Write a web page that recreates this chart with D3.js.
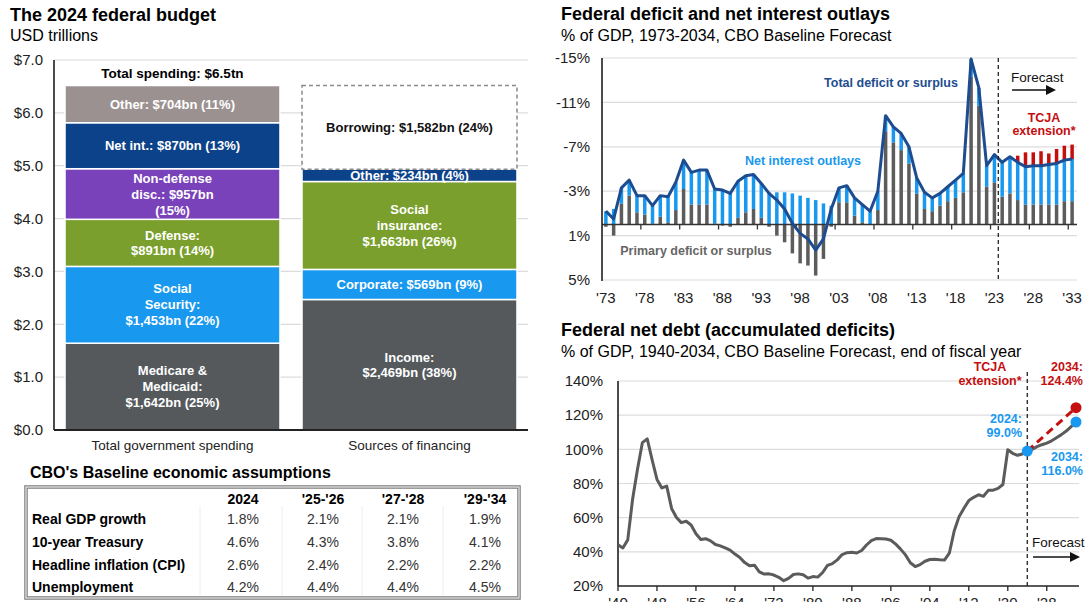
<!DOCTYPE html>
<html>
<head>
<meta charset="utf-8">
<script src="https://cdn.jsdelivr.net/npm/d3@7"></script>
<style>
  body { margin: 0; background: #fff; }
  svg { display: block; font-family: "Liberation Sans", Arial, sans-serif; }
</style>
</head>
<body>
<svg id="canvas" width="1087" height="602"></svg>
<script>
// ---- data: 2024 budget (USD bn) ----
var budgetCats = ['Total government spending', 'Sources of financing']

var spendNames = ['Medicare & Medicaid', 'Social Security', 'Defense', 'Non-defense disc.', 'Net int.', 'Other']
var spendValues = [1642, 1453, 891, 957, 870, 704]
var spendLabels = [
  ['Medicare &', 'Medicaid:', '$1,642bn (25%)'],
  ['Social', 'Security:', '$1,453bn (22%)'],
  ['Defense:', '$891bn (14%)'],
  ['Non-defense', 'disc.: $957bn', '(15%)'],
  ['Net int.: $870bn (13%)'],
  ['Other: $704bn (11%)']
]
var finNames = ['Income', 'Corporate', 'Social insurance', 'Other', 'Borrowing']
var finValues = [2469, 569, 1663, 234, 1582]
var finLabels = [
  ['Income:', '$2,469bn (38%)'],
  ['Corporate: $569bn (9%)'],
  ['Social', 'insurance:', '$1,663bn (26%)'],
  ['Other: $234bn (4%)'],
  ['Borrowing: $1,582bn (24%)']
]
var budgetTicks = [0, 1, 2, 3, 4, 5, 6, 7]

// ---- data: CBO assumptions table ----
var tableCols = ['2024', "'25-'26", "'27-'28", "'29-'34"]
var tableRows = ['Real GDP growth', '10-year Treasury', 'Headline inflation (CPI)', 'Unemployment']
var tableVals = [
  ['1.8%', '2.1%', '2.1%', '1.9%'],
  ['4.6%', '4.3%', '3.8%', '4.1%'],
  ['2.6%', '2.4%', '2.2%', '2.2%'],
  ['4.2%', '4.4%', '4.4%', '4.5%']
]

// ---- data: deficit, % of GDP (negative = deficit), 1973-2033 ----
var defYears = d3.range(1973, 2034)
var totalDeficit = [
  -1.2, -0.5, -3.3, -4.0, -2.6, -2.6, -1.7, -2.6, -2.5, -3.8,
  -5.8, -4.7, -4.9, -4.9, -3.2, -3.1, -2.8, -3.9, -4.4, -4.5,
  -3.7, -2.8, -2.2, -1.4, -0.1, 0.8, 1.3, 2.3, 1.3, -1.4,
  -3.3, -3.5, -2.4, -1.8, -1.2, -3.0, -9.8, -8.8, -8.2, -7.0,
  -4.2, -2.9, -2.4, -2.8, -3.4, -4.0, -4.6, -14.9, -12.3, -5.3,
  -6.3, -5.6, -6.1, -5.6, -5.2, -5.3, -5.3, -5.4, -5.5, -5.8, -5.9
]
var primaryDeficit = [
  0.2, 1.0, -1.9, -2.6, -1.1, -0.9, -0.1, -0.7, -0.2, -1.3,
  -3.2, -1.8, -1.8, -1.8, -0.1, 0.1, 0.2, -0.6, -1.1, -1.4,
  -0.6, 0.2, 1.0, 1.6, 2.6, 3.5, 3.7, 4.6, 3.1, 0.2,
  -2.0, -2.0, -0.8, -0.2, 0.0, -1.3, -8.4, -7.4, -6.7, -5.5,
  -2.8, -1.4, -1.2, -1.7, -2.1, -2.4, -2.9, -13.3, -10.7, -3.4,
  -3.8, -2.5, -2.8, -2.2, -1.8, -1.8, -1.8, -1.8, -1.8, -2.1, -2.1
]
var netInterest = [
  1.2, 1.4, 1.4, 1.4, 1.5, 1.7, 1.6, 1.9, 2.3, 2.5,
  2.6, 2.9, 3.1, 3.1, 3.1, 3.1, 2.9, 3.3, 3.3, 3.1,
  3.1, 2.9, 2.9, 2.9, 2.8, 2.6, 2.4, 2.2, 1.9, 1.7,
  1.3, 1.5, 1.6, 1.6, 1.2, 1.7, 1.4, 1.4, 1.5, 1.5,
  1.4, 1.5, 1.2, 1.1, 1.3, 1.6, 1.7, 1.6, 1.6, 1.9,
  2.5, 3.1, 3.3, 3.4, 3.4, 3.5, 3.5, 3.6, 3.7, 3.7, 3.8
]
var tcjaYears = [2026, 2027, 2028, 2029, 2030, 2031, 2032, 2033]
var tcjaDeficit = [-6.2, -6.5, -6.5, -6.6, -6.4, -6.8, -7.1, -7.2]
var defTicks = [-15, -11, -7, -3, 1, 5]

// ---- data: net debt, % of GDP ----
var debtYears = d3.range(1940, 2025)
var debtHist = [
  44.2, 42.3, 47.0, 70.9, 88.3, 103.9, 106.1, 93.9, 82.4, 77.4,
  78.5, 65.4, 60.1, 57.1, 57.9, 55.7, 50.6, 47.2, 47.7, 46.4,
  44.3, 43.5, 42.3, 41.0, 38.7, 36.7, 33.7, 31.8, 32.2, 28.3,
  27.0, 27.1, 26.4, 25.1, 23.1, 24.5, 26.7, 27.1, 26.6, 24.6,
  25.5, 25.2, 27.9, 32.1, 33.1, 35.3, 38.4, 39.5, 39.8, 39.3,
  40.8, 44.0, 46.6, 47.8, 47.7, 47.5, 46.8, 44.5, 41.6, 38.2,
  33.6, 31.4, 32.5, 34.5, 35.5, 35.6, 35.3, 35.2, 39.2, 52.2,
  60.6, 65.5, 70.0, 71.9, 73.4, 72.5, 76.0, 76.1, 77.1, 79.4,
  99.8, 97.7, 96.5, 97.3, 99.0
]
var projYears = [2024, 2025, 2026, 2027, 2028, 2029, 2030, 2031, 2032, 2033, 2034]
var debtBaseline = [99.0, 100.0, 101.6, 102.7, 103.6, 105.0, 106.8, 108.6, 110.7, 113.3, 116.0]
var tcjaDebtYears = [2024, 2034]
var tcjaDebt = [99.0, 124.4]
var debtTicks = [20, 40, 60, 80, 100, 120, 140]
var debtXTicks = [1940, 1948, 1956, 1964, 1972, 1980, 1988, 1996, 2004, 2012, 2020, 2028]

// colors
var cGray = '#55595c', cBlue = '#1898ee', cGreen = '#7a9f2c', cPurple = '#7942ba'
var cNavy = '#0c428a', cTaupe = '#9c9191', cRed = '#c40f0f', cGrid = '#dcdcdc'
var cLine = '#1d4d90'

var svg = d3.select('#canvas')

function lines(g, arr, x, yMid, o) {
  var lh = o.lh || 16
  var y0 = yMid - (arr.length - 1) * lh / 2
  arr.forEach(function(t, i) {
    g.append('text')
      .attr('x', x).attr('y', y0 + i * lh).attr('dy', '0.35em')
      .attr('text-anchor', o.anchor || 'middle')
      .attr('font-size', o.size || 13)
      .attr('font-weight', o.weight || 'bold')
      .attr('fill', o.fill || '#fff')
      .text(t)
  })
}

function arrow(g, x1, x2, y) {
  g.append('line').attr('x1', x1).attr('x2', x2 - 8).attr('y1', y).attr('y2', y)
    .attr('stroke', '#111').attr('stroke-width', 1.5)
  g.append('path').attr('d', 'M' + (x2 - 10) + ',' + (y - 5) + 'L' + x2 + ',' + y + 'L' + (x2 - 10) + ',' + (y + 5) + 'Z')
    .attr('fill', '#111')
}

// ================= left: budget stacks =================
var gB = svg.append('g')
gB.append('text').attr('x', 10).attr('y', 21).attr('font-size', 18).attr('font-weight', 'bold').text('The 2024 federal budget')
gB.append('text').attr('x', 10).attr('y', 41).attr('font-size', 16).text('USD trillions')

var yB = d3.scaleLinear().domain([0, 7]).range([430, 60])
var xB = d3.scaleBand().domain(budgetCats).range([54, 528]).paddingInner(0.093).paddingOuter(0.0465)

gB.selectAll('.grid').data(budgetTicks.slice(1)).enter().append('line')
  .attr('x1', 54).attr('x2', 528)
  .attr('y1', function(d) { return yB(d) }).attr('y2', function(d) { return yB(d) })
  .attr('stroke', cGrid).attr('stroke-width', 1.2)

gB.selectAll('.ylab').data(budgetTicks).enter().append('text')
  .attr('x', 43).attr('y', function(d) { return yB(d) }).attr('dy', '0.35em')
  .attr('text-anchor', 'end').attr('font-size', 15).attr('fill', '#222')
  .text(function(d) { return '$' + d.toFixed(1) })

function stackUp(names, values) {
  var acc = 0
  return names.map(function(n, i) {
    var s = { name: n, y0: acc / 1000, y1: (acc + values[i]) / 1000, i: i }
    acc += values[i]
    return s
  })
}

var spendStack = stackUp(spendNames, spendValues)
var spendColors = [cGray, cBlue, cGreen, cPurple, cNavy, cTaupe]
var x0 = xB(budgetCats[0]), bw = xB.bandwidth()
gB.selectAll('.spend').data(spendStack).enter().append('rect')
  .attr('x', x0).attr('width', bw)
  .attr('y', function(d) { return yB(d.y1) })
  .attr('height', function(d) { return yB(d.y0) - yB(d.y1) })
  .attr('fill', function(d) { return spendColors[d.i] })
  .attr('stroke', '#fff').attr('stroke-width', 1.5)
spendStack.forEach(function(d) {
  lines(gB, spendLabels[d.i], x0 + bw / 2, yB((d.y0 + d.y1) / 2), { size: 13, lh: spendLabels[d.i].length == 2 ? 15 : 16 })
})
gB.append('text').attr('x', x0 + bw / 2).attr('y', 73).attr('dy', '0.35em').attr('text-anchor', 'middle')
  .attr('font-size', 13.5).attr('font-weight', 'bold').text('Total spending: $6.5tn')

var finStack = stackUp(finNames, finValues)
var finColors = [cGray, cBlue, cGreen, cNavy, '#fff']
var x1 = xB(budgetCats[1])
gB.selectAll('.fin').data(finStack).enter().append('rect')
  .attr('x', x1).attr('width', bw)
  .attr('y', function(d) { return yB(d.y1) })
  .attr('height', function(d) { return yB(d.y0) - yB(d.y1) })
  .attr('fill', function(d) { return finColors[d.i] })
  .attr('stroke', function(d) { return d.name == 'Borrowing' ? '#8a8a8a' : '#fff' })
  .attr('stroke-width', 1.5)
  .attr('stroke-dasharray', function(d) { return d.name == 'Borrowing' ? '4,3' : null })
finStack.forEach(function(d) {
  lines(gB, finLabels[d.i], x1 + bw / 2, yB((d.y0 + d.y1) / 2),
    { size: 13, lh: finLabels[d.i].length == 2 ? 15 : 16, fill: d.name == 'Borrowing' ? '#111' : '#fff' })
})

gB.append('line').attr('x1', 54).attr('x2', 54).attr('y1', 60).attr('y2', 430).attr('stroke', '#111').attr('stroke-width', 1.5)
gB.append('line').attr('x1', 54).attr('x2', 528).attr('y1', 430).attr('y2', 430).attr('stroke', '#222').attr('stroke-width', 1.8)
gB.selectAll('.xlab').data(budgetCats).enter().append('text')
  .attr('x', function(d) { return xB(d) + bw / 2 }).attr('y', 445).attr('dy', '0.35em')
  .attr('text-anchor', 'middle').attr('font-size', 13.5).attr('fill', '#222')
  .text(function(d) { return d })

// ================= table =================
var gT = svg.append('g')
gT.append('text').attr('x', 30).attr('y', 478).attr('font-size', 16).attr('font-weight', 'bold').text("CBO's Baseline economic assumptions")
gT.append('rect').attr('x', 26).attr('y', 487).attr('width', 493).attr('height', 111)
  .attr('fill', 'none').attr('stroke', '#7d7d7d').attr('stroke-width', 3.5)
gT.append('rect').attr('x', 26).attr('y', 487).attr('width', 493).attr('height', 111)
  .attr('fill', 'none').attr('stroke', '#fff').attr('stroke-width', 1)
var colX = [243, 323, 403, 485]
var rowY = [519, 542, 565, 587]
;[200, 282, 362, 443].forEach(function(x) {
  gT.append('line').attr('x1', x).attr('x2', x).attr('y1', 506).attr('y2', 596).attr('stroke', '#eeeeee')
})
tableCols.forEach(function(c, j) {
  gT.append('text').attr('x', colX[j]).attr('y', 499).attr('dy', '0.35em').attr('text-anchor', 'middle')
    .attr('font-size', 14).attr('font-weight', 'bold').text(c)
})
tableRows.forEach(function(r, i) {
  gT.append('text').attr('x', 32).attr('y', rowY[i]).attr('dy', '0.35em')
    .attr('font-size', 14).attr('font-weight', 'bold').text(r)
  tableVals[i].forEach(function(v, j) {
    gT.append('text').attr('x', colX[j]).attr('y', rowY[i]).attr('dy', '0.35em').attr('text-anchor', 'middle')
      .attr('font-size', 14).attr('fill', '#333').text(v)
  })
})

// ================= top right: deficit =================
var gD = svg.append('g')
gD.append('text').attr('x', 561).attr('y', 20).attr('font-size', 18).attr('font-weight', 'bold').text('Federal deficit and net interest outlays')
gD.append('text').attr('x', 561).attr('y', 41).attr('font-size', 16).text('% of GDP, 1973-2034, CBO Baseline Forecast')

var xD = d3.scaleBand().domain(defYears).range([602, 1076]).paddingInner(0.55).paddingOuter(0.275)
var yD = d3.scaleLinear().domain([-15, 5]).range([58, 280])
var dbw = xD.bandwidth(), step = xD.step()

gD.selectAll('.grid').data(defTicks).enter().append('line')
  .attr('x1', 602).attr('x2', 1077)
  .attr('y1', function(d) { return yD(d) }).attr('y2', function(d) { return yD(d) })
  .attr('stroke', cGrid).attr('stroke-width', 1.2)
gD.selectAll('.ylab').data(defTicks).enter().append('text')
  .attr('x', 590).attr('y', function(d) { return yD(d) }).attr('dy', '0.35em')
  .attr('text-anchor', 'end').attr('font-size', 15).attr('fill', '#222')
  .text(function(d) { return d + '%' })

var defData = defYears.map(function(y, i) {
  var base = Math.min(primaryDeficit[i], 0)
  return { year: y, total: totalDeficit[i], primary: primaryDeficit[i], base: base, top: base - netInterest[i] }
})

gD.selectAll('.gbar').data(defData).enter().append('rect')
  .attr('x', function(d) { return xD(d.year) }).attr('width', dbw)
  .attr('y', function(d) { return Math.min(yD(0), yD(d.primary)) })
  .attr('height', function(d) { return Math.abs(yD(d.primary) - yD(0)) })
  .attr('fill', '#5c5c5c')
gD.selectAll('.bbar').data(defData).enter().append('rect')
  .attr('x', function(d) { return xD(d.year) }).attr('width', dbw)
  .attr('y', function(d) { return yD(d.top) })
  .attr('height', function(d) { return yD(d.base) - yD(d.top) })
  .attr('fill', cBlue)
gD.selectAll('.rbar').data(tcjaYears).enter().append('rect')
  .attr('x', function(d) { return xD(d) }).attr('width', dbw)
  .attr('y', function(d, i) { return yD(tcjaDeficit[i]) })
  .attr('height', function(d, i) {
    var top = defData[defYears.indexOf(d)].top
    return yD(top) - yD(tcjaDeficit[i])
  })
  .attr('fill', cRed)

// axes
gD.append('line').attr('x1', 602).attr('x2', 1077).attr('y1', yD(0)).attr('y2', yD(0)).attr('stroke', '#333').attr('stroke-width', 1.5)
d3.range(1, 13).forEach(function(k) {
  var x = 602 + k * 5 * step
  gD.append('line').attr('x1', x).attr('x2', x).attr('y1', yD(0)).attr('y2', yD(0) + 5).attr('stroke', '#333').attr('stroke-width', 1.3)
})
gD.append('line').attr('x1', 602).attr('x2', 602).attr('y1', 58).attr('y2', 281).attr('stroke', '#111').attr('stroke-width', 1.5)

var lineD = d3.line()
  .x(function(d) { return xD(d.year) + dbw / 2 })
  .y(function(d) { return yD(d.total) })
gD.append('path').datum(defData).attr('d', lineD)
  .attr('fill', 'none').attr('stroke', cLine).attr('stroke-width', 3).attr('stroke-linejoin', 'round')

var xDash = (xD(2023) + xD(2024) + dbw) / 2
gD.append('line').attr('x1', xDash).attr('x2', xDash).attr('y1', 58).attr('y2', 281)
  .attr('stroke', '#222').attr('stroke-width', 1.3).attr('stroke-dasharray', '4,3')

gD.selectAll('.xlab').data(defYears.filter(function(y) { return (y - 1973) % 5 == 0 })).enter().append('text')
  .attr('x', function(d) { return xD(d) + dbw / 2 }).attr('y', 303)
  .attr('text-anchor', 'middle').attr('font-size', 15).attr('fill', '#222')
  .text(function(d) { return "'" + String(d).slice(2) })

gD.append('text').attr('x', 891).attr('y', 83).attr('dy', '0.35em').attr('text-anchor', 'middle')
  .attr('font-size', 12.5).attr('font-weight', 'bold').attr('fill', cLine).text('Total deficit or surplus')
gD.append('text').attr('x', 803).attr('y', 161).attr('dy', '0.35em').attr('text-anchor', 'middle')
  .attr('font-size', 12.5).attr('font-weight', 'bold').attr('fill', cBlue).text('Net interest outlays')
gD.append('text').attr('x', 696).attr('y', 251).attr('dy', '0.35em').attr('text-anchor', 'middle')
  .attr('font-size', 12.5).attr('font-weight', 'bold').attr('fill', '#666').text('Primary deficit or surplus')
gD.append('text').attr('x', 1011).attr('y', 77).attr('dy', '0.35em')
  .attr('font-size', 13.5).attr('fill', '#111').text('Forecast')
arrow(gD, 1012, 1056, 90)
lines(gD, ['TCJA', 'extension*'], 1044, 124, { size: 12.5, lh: 13, fill: cRed })

// ================= bottom right: net debt =================
var gN = svg.append('g')
gN.append('text').attr('x', 561).attr('y', 336).attr('font-size', 18).attr('font-weight', 'bold').text('Federal net debt (accumulated deficits)')
gN.append('text').attr('x', 561).attr('y', 357).attr('font-size', 16).text('% of GDP, 1940-2034, CBO Baseline Forecast, end of fiscal year')

var xN = d3.scaleLinear().domain([1940, 2034]).range([618, 1076])
var yN = d3.scaleLinear().domain([20, 140]).range([586, 381])

gN.selectAll('.grid').data(debtTicks.slice(1)).enter().append('line')
  .attr('x1', 618).attr('x2', 1079)
  .attr('y1', function(d) { return yN(d) }).attr('y2', function(d) { return yN(d) })
  .attr('stroke', cGrid).attr('stroke-width', 1.2)
gN.selectAll('.ylab').data(debtTicks).enter().append('text')
  .attr('x', 603).attr('y', function(d) { return yN(d) }).attr('dy', '0.35em')
  .attr('text-anchor', 'end').attr('font-size', 15).attr('fill', '#222')
  .text(function(d) { return d + '%' })

gN.append('line').attr('x1', 618).attr('x2', 618).attr('y1', 381).attr('y2', 586).attr('stroke', '#111').attr('stroke-width', 1.5)
gN.append('line').attr('x1', 618).attr('x2', 1079).attr('y1', 586).attr('y2', 586).attr('stroke', '#222').attr('stroke-width', 1.5)
gN.selectAll('.tick').data(debtXTicks).enter().append('line')
  .attr('x1', function(d) { return xN(d) }).attr('x2', function(d) { return xN(d) })
  .attr('y1', 586).attr('y2', 591).attr('stroke', '#222').attr('stroke-width', 1.3)
gN.selectAll('.xlab').data(debtXTicks).enter().append('text')
  .attr('x', function(d) { return xN(d) }).attr('y', 608)
  .attr('text-anchor', 'middle').attr('font-size', 15).attr('fill', '#222')
  .text(function(d) { return "'" + String(d).slice(2) })

var xF = xN(2024)
gN.append('line').attr('x1', xF).attr('x2', xF).attr('y1', 372).attr('y2', 586)
  .attr('stroke', '#222').attr('stroke-width', 1.3).attr('stroke-dasharray', '4,3')

var lineN = d3.line().x(function(d) { return xN(d[0]) }).y(function(d) { return yN(d[1]) })
var histPts = debtYears.map(function(y, i) { return [y, debtHist[i]] })
var basePts = projYears.map(function(y, i) { return [y, debtBaseline[i]] })
var tcjaPts = tcjaDebtYears.map(function(y, i) { return [y, tcjaDebt[i]] })

gN.append('path').datum(histPts.concat(basePts.slice(1))).attr('d', lineN)
  .attr('fill', 'none').attr('stroke', '#5b5b5b').attr('stroke-width', 3).attr('stroke-linejoin', 'round')
gN.append('path').datum(tcjaPts).attr('d', lineN)
  .attr('fill', 'none').attr('stroke', cRed).attr('stroke-width', 3).attr('stroke-dasharray', '8,5')

gN.append('circle').attr('cx', xN(2034)).attr('cy', yN(tcjaDebt[1])).attr('r', 5.5).attr('fill', cRed)
gN.append('circle').attr('cx', xN(2034)).attr('cy', yN(debtBaseline[10])).attr('r', 5.5).attr('fill', cBlue)
gN.append('circle').attr('cx', xN(2024)).attr('cy', yN(debtHist[84])).attr('r', 5.5).attr('fill', cBlue)

lines(gN, ['TCJA', 'extension*'], 990, 374, { size: 12.5, lh: 14, fill: cRed })
lines(gN, ['2034:', '124.4%'], 1083, 374, { size: 12.5, lh: 14, fill: cRed, anchor: 'end' })
lines(gN, ['2024:', '99.0%'], 1022, 426, { size: 12.5, lh: 14, fill: cBlue, anchor: 'end' })
lines(gN, ['2034:', '116.0%'], 1083, 464, { size: 12.5, lh: 14, fill: cBlue, anchor: 'end' })
gN.append('text').attr('x', 1032).attr('y', 542).attr('dy', '0.35em')
  .attr('font-size', 13.5).attr('fill', '#111').text('Forecast')
arrow(gN, 1033, 1080, 557)
</script>
</body>
</html>
